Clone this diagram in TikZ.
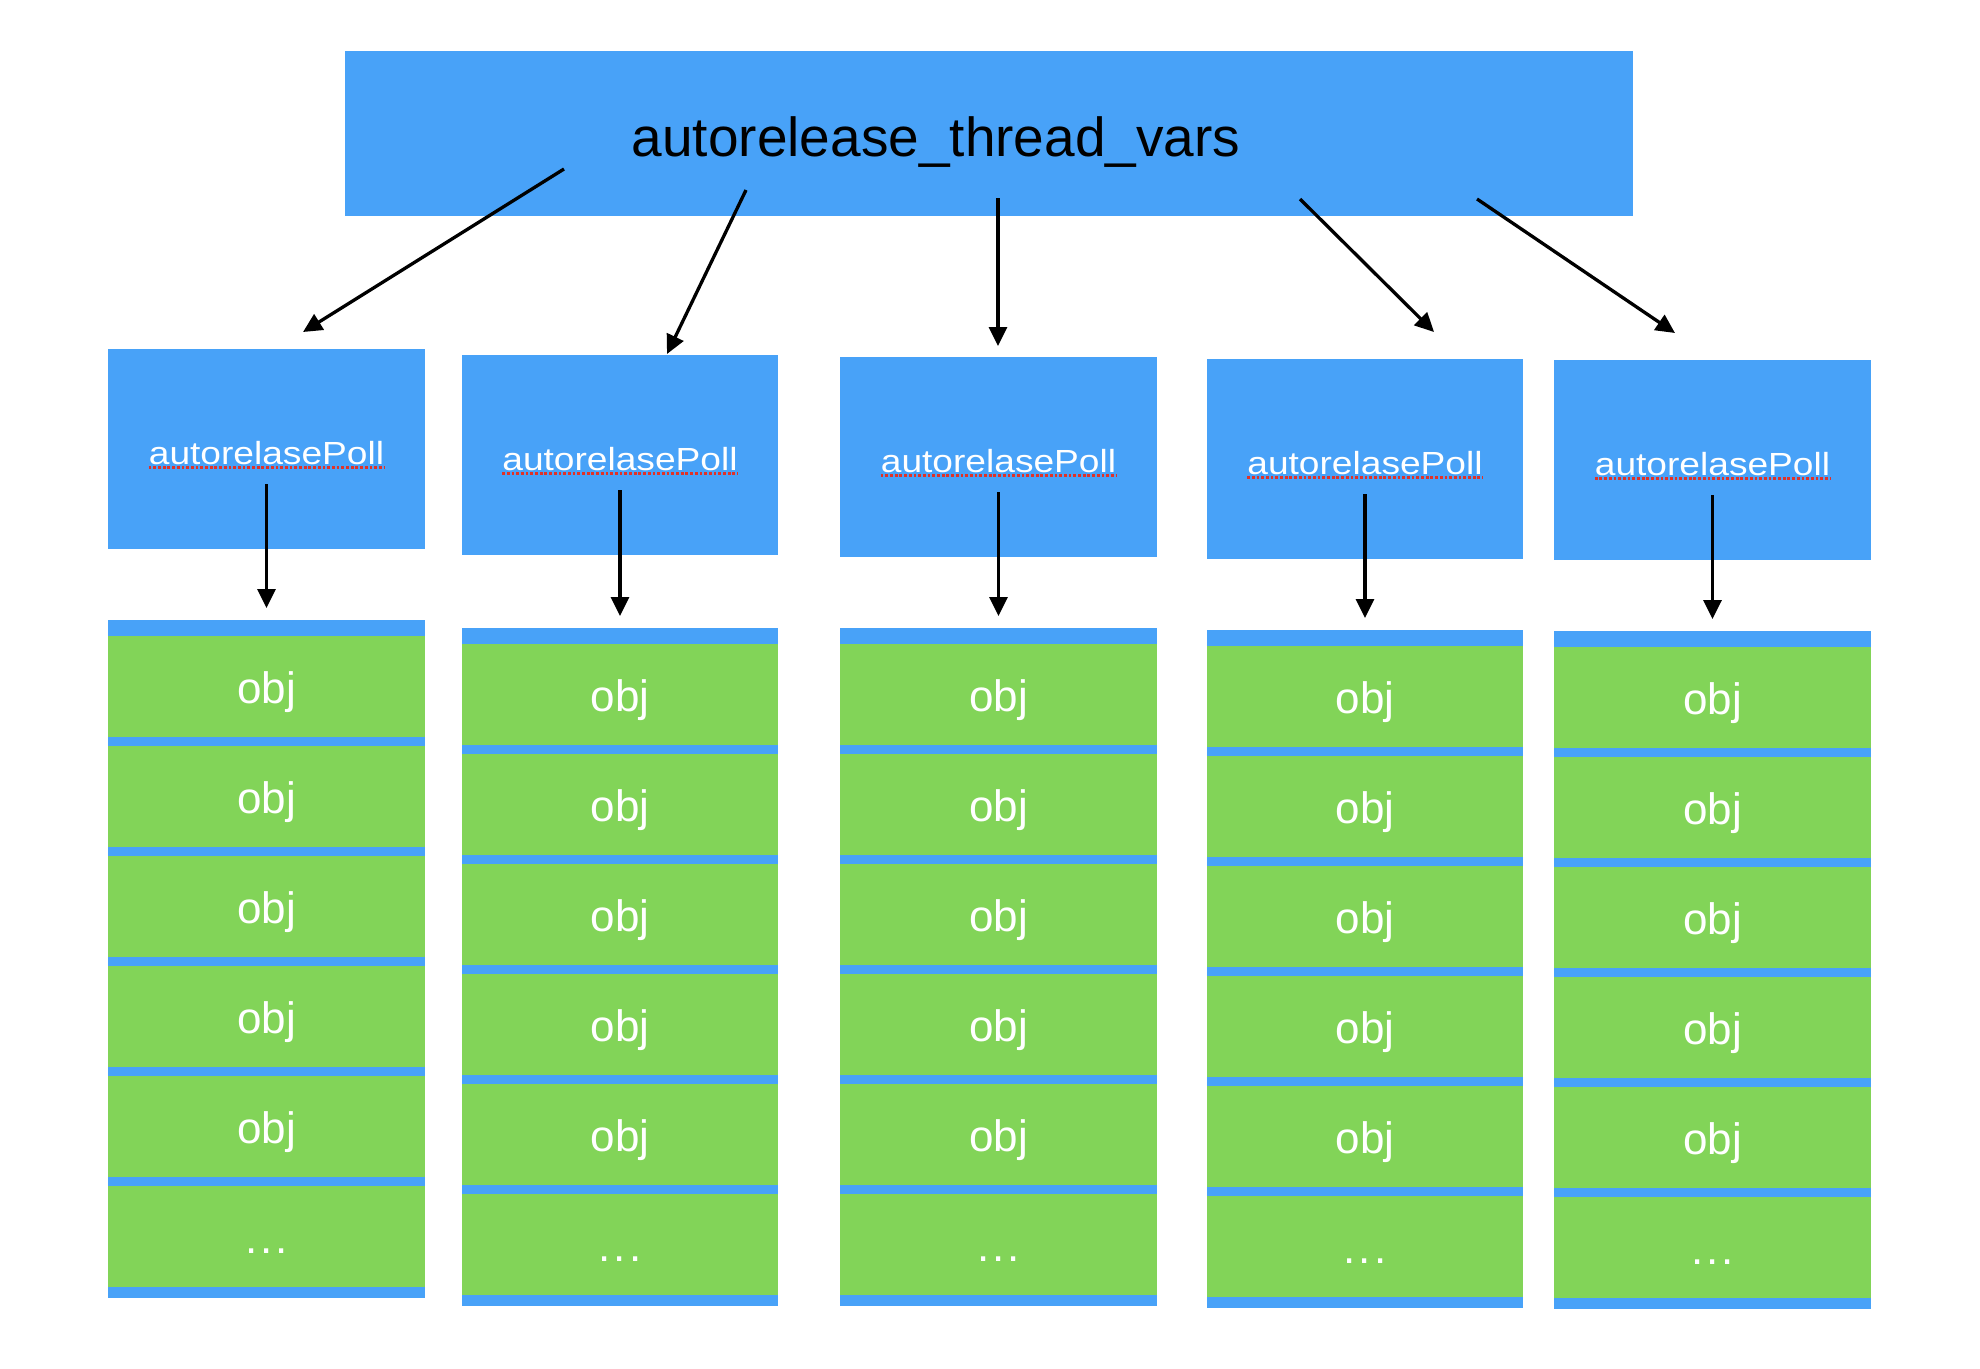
\documentclass[tikz,border=0pt]{standalone}
\usepackage{fontspec}
\setmainfont{Liberation Sans}
\newfontfamily\poolfont{Liberation Sans}[FakeStretch=1.16]
\usetikzlibrary{arrows.meta}
\definecolor{boxblue}{RGB}{72,162,248}
\definecolor{objgreen}{RGB}{130,212,88}
\definecolor{spellred}{RGB}{224,50,40}
\newcommand{\objdots}{.\kern3pt.\kern3pt.}
\begin{document}
\begin{tikzpicture}[x=1pt,y=-1pt,
  bluebox/.style={fill=boxblue, draw=none, inner sep=0pt, outer sep=0pt, anchor=north west},
  objrow/.style={fill=objgreen, draw=none, inner sep=0pt, outer sep=0pt, anchor=north west,
    minimum height=101pt, text=white, font=\fontsize{44}{50}\selectfont,
    text height=33pt, text depth=0pt},
  titletext/.style={anchor=base, inner sep=0pt, text=black, font=\fontsize{55}{62}\selectfont},
  pooltext/.style={anchor=base, inner sep=0pt, text=white, font=\poolfont\fontsize{32}{38}\selectfont},
  spell/.style={draw=spellred, line width=3pt, dash pattern=on 2.8pt off 1.9pt},
  arr/.style={draw=black, line width=3.3pt, -{Triangle[length=19pt,width=18pt]}}
]
\useasboundingbox (0,0) rectangle (1980,1368);
% top box
\node[bluebox, minimum width=1288pt, minimum height=165pt] (top) at (345,51) {};
\node[titletext] (title) at (936,156) {autorelease\_thread\_vars};
% columns
\foreach \i/\x/\w/\pt/\st in {1/108/317/349/620, 2/462/316/355/628, 3/840/317/357/628, 4/1207/316/359/630, 5/1554/317/360/631}{
  \node[bluebox, minimum width=\w pt, minimum height=200pt] (pool\i) at (\x,\pt) {};
  \node[pooltext] (lab\i) at ([yshift=-115pt]pool\i.north) {autorelasePoll};
  \draw[spell] ([yshift=-3.5pt]lab\i.base west) -- ([yshift=-3.5pt]lab\i.base east);
  \node[bluebox, minimum width=\w pt, minimum height=678pt] (stack\i) at (\x,\st) {};
  \foreach \k/\lab in {0/obj,1/obj,2/obj,3/obj,4/obj,5/\objdots}{
    \node[objrow, minimum width=\w pt] (o\i-\k) at (\x,\st+16+110*\k) {\lab};
  }
  \draw[arr] ([yshift=-135pt]pool\i.north) -- ([yshift=12pt]stack\i.north);
}
% arrows from the top box
\coordinate (s1) at (564,169); \coordinate (e1) at (303,332);
\coordinate (s2) at (746,190); \coordinate (e2) at (667,354);
\coordinate (s3) at (998,198); \coordinate (e3) at (998,346);
\coordinate (s4) at (1300,199); \coordinate (e4) at (1434,332);
\coordinate (s5) at (1477,199); \coordinate (e5) at (1675,333);
\foreach \j in {1,...,5}{ \draw[arr] (s\j) -- (e\j); }
\end{tikzpicture}
\end{document}
